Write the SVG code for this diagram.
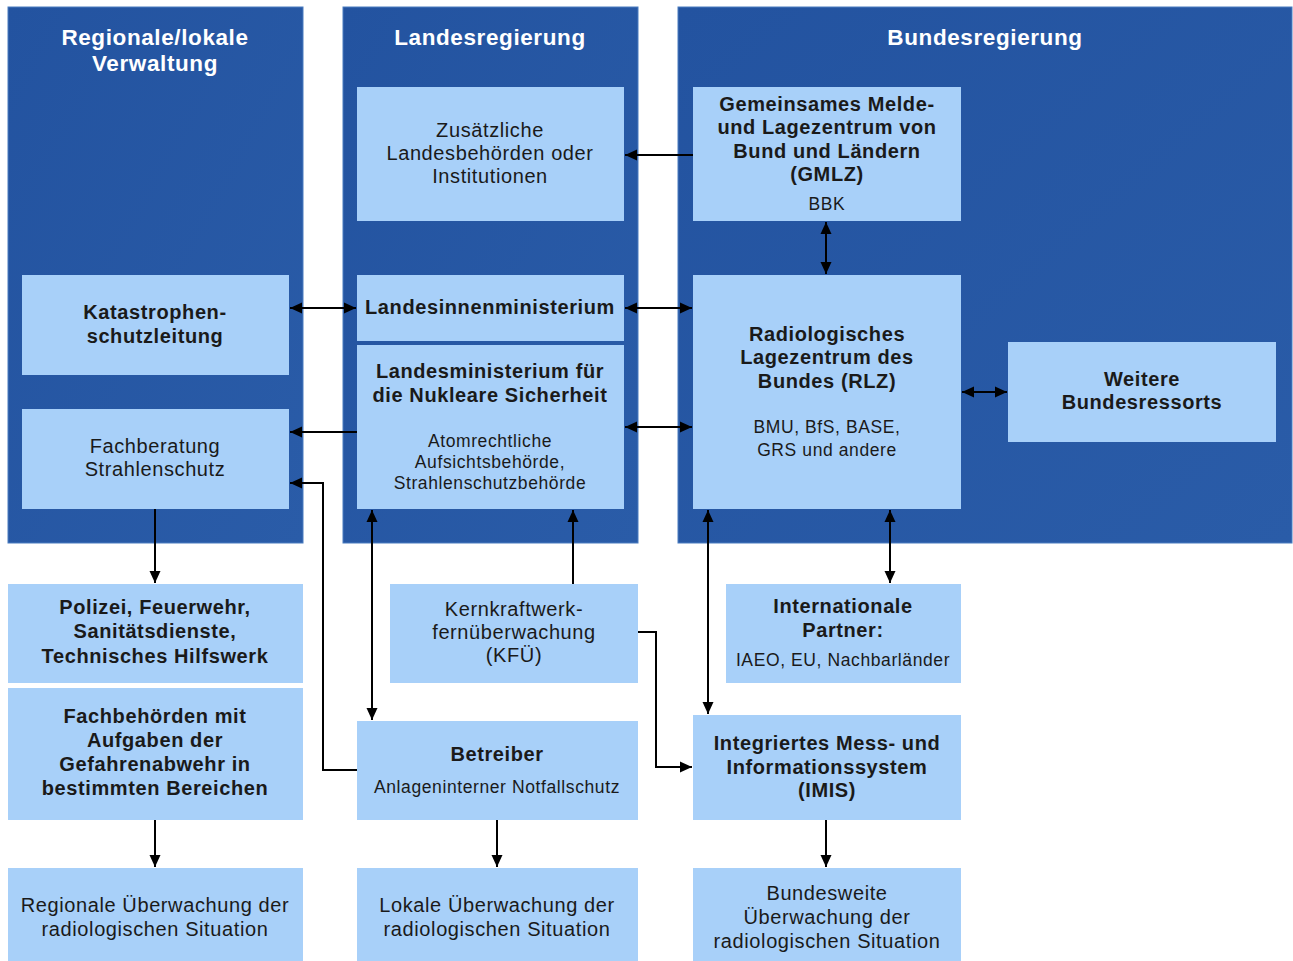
<svg xmlns="http://www.w3.org/2000/svg" width="1293" height="961" viewBox="0 0 1293 961">
<defs>
<linearGradient id="colg" x1="0" y1="0" x2="1" y2="1">
<stop offset="0" stop-color="#2353a0"/>
<stop offset="1" stop-color="#2a5ca8"/>
</linearGradient>
<marker id="ah" viewBox="0 0 12 12" refX="12" refY="6" markerWidth="12" markerHeight="12" markerUnits="userSpaceOnUse" orient="auto-start-reverse">
<path d="M0,0.5 L12,6 L0,11.5 z" fill="#000"/>
</marker>
</defs>
<style>
.col{fill:url(#colg);stroke:#4a7cc0;stroke-width:1}
.box{fill:#a8d0f9}
.hd{font-family:"Liberation Sans",Arial,sans-serif;font-weight:bold;font-size:22.5px;letter-spacing:0.6px;fill:#ffffff;text-anchor:middle}
.b{font-family:"Liberation Sans",Arial,sans-serif;font-weight:bold;font-size:20px;letter-spacing:0.6px;fill:#1a1a1a;text-anchor:middle}
.r{font-family:"Liberation Sans",Arial,sans-serif;font-size:20px;letter-spacing:0.6px;fill:#1a1a1a;text-anchor:middle}
.s{font-family:"Liberation Sans",Arial,sans-serif;font-size:17.5px;letter-spacing:0.6px;fill:#1a1a1a;text-anchor:middle}
.c{fill:none;stroke:#000;stroke-width:2}
</style>
<rect width="1293" height="961" fill="#ffffff"/>
<g id="columns">
<g id="col-regional"><rect class="col" x="8" y="7" width="295" height="536"/>
<text class="hd" x="155" y="45">Regionale/lokale</text><text class="hd" x="155" y="71">Verwaltung</text></g>
<g id="col-land"><rect class="col" x="343" y="7" width="295" height="536"/>
<text class="hd" x="490" y="45">Landesregierung</text></g>
<g id="col-bund"><rect class="col" x="678" y="7" width="614" height="536"/>
<text class="hd" x="985" y="45">Bundesregierung</text></g>
</g>
<g id="n-zusatz"><rect class="box" x="357" y="87" width="267" height="134"/>
<text class="r" x="490" y="137">Zusätzliche</text><text class="r" x="490" y="160">Landesbehörden oder</text><text class="r" x="490" y="183">Institutionen</text></g>
<g id="n-gmlz"><rect class="box" x="693" y="87" width="268" height="134"/>
<text class="b" x="827" y="111">Gemeinsames Melde-</text><text class="b" x="827" y="134">und Lagezentrum von</text><text class="b" x="827" y="158">Bund und Ländern</text><text class="b" x="827" y="181">(GMLZ)</text><text class="s" x="827" y="210">BBK</text></g>
<g id="n-kats"><rect class="box" x="22" y="275" width="267" height="100"/>
<text class="b" x="155" y="319">Katastrophen-</text><text class="b" x="155" y="343">schutzleitung</text></g>
<g id="n-innen"><rect class="box" x="357" y="275" width="267" height="66"/>
<text class="b" x="490" y="314">Landesinnenministerium</text></g>
<g id="n-nuk"><rect class="box" x="357" y="345" width="267" height="164"/>
<text class="b" x="490" y="378">Landesministerium für</text><text class="b" x="490" y="402">die Nukleare Sicherheit</text><text class="s" x="490" y="447">Atomrechtliche</text><text class="s" x="490" y="468">Aufsichtsbehörde,</text><text class="s" x="490" y="489">Strahlenschutzbehörde</text></g>
<g id="n-fach"><rect class="box" x="22" y="409" width="267" height="100"/>
<text class="r" x="155" y="453">Fachberatung</text><text class="r" x="155" y="476">Strahlenschutz</text></g>
<g id="n-rlz"><rect class="box" x="693" y="275" width="268" height="234"/>
<text class="b" x="827" y="341">Radiologisches</text><text class="b" x="827" y="364">Lagezentrum des</text><text class="b" x="827" y="388">Bundes (RLZ)</text><text class="s" x="827" y="433">BMU, BfS, BASE,</text><text class="s" x="827" y="456">GRS und andere</text></g>
<g id="n-weitere"><rect class="box" x="1008" y="342" width="268" height="100"/>
<text class="b" x="1142" y="386">Weitere</text><text class="b" x="1142" y="409">Bundesressorts</text></g>
<g id="n-polizei"><rect class="box" x="8" y="584" width="295" height="99"/>
<text class="b" x="155" y="614">Polizei, Feuerwehr,</text><text class="b" x="155" y="638">Sanitätsdienste,</text><text class="b" x="155" y="663">Technisches Hilfswerk</text></g>
<g id="n-fachbeh"><rect class="box" x="8" y="688" width="295" height="132"/>
<text class="b" x="155" y="723">Fachbehörden mit</text><text class="b" x="155" y="747">Aufgaben der</text><text class="b" x="155" y="771">Gefahrenabwehr in</text><text class="b" x="155" y="795">bestimmten Bereichen</text></g>
<g id="n-regional"><rect class="box" x="8" y="868" width="295" height="93"/>
<text class="r" x="155" y="912">Regionale Überwachung der</text><text class="r" x="155" y="936">radiologischen Situation</text></g>
<g id="n-kfue"><rect class="box" x="390" y="584" width="248" height="99"/>
<text class="r" x="514" y="616">Kernkraftwerk-</text><text class="r" x="514" y="639">fernüberwachung</text><text class="r" x="514" y="662">(KFÜ)</text></g>
<g id="n-betreiber"><rect class="box" x="357" y="721" width="281" height="99"/>
<text class="b" x="497" y="761">Betreiber</text><text class="s" x="497" y="793">Anlageninterner Notfallschutz</text></g>
<g id="n-lokal"><rect class="box" x="357" y="868" width="281" height="93"/>
<text class="r" x="497" y="912">Lokale Überwachung der</text><text class="r" x="497" y="936">radiologischen Situation</text></g>
<g id="n-intl"><rect class="box" x="726" y="584" width="235" height="99"/>
<text class="b" x="843" y="613">Internationale</text><text class="b" x="843" y="637">Partner:</text><text class="s" x="843" y="666">IAEO, EU, Nachbarländer</text></g>
<g id="n-imis"><rect class="box" x="693" y="715" width="268" height="105"/>
<text class="b" x="827" y="750">Integriertes Mess- und</text><text class="b" x="827" y="774">Informationssystem</text><text class="b" x="827" y="797">(IMIS)</text></g>
<g id="n-bundesweit"><rect class="box" x="693" y="868" width="268" height="93"/>
<text class="r" x="827" y="900">Bundesweite</text><text class="r" x="827" y="924">Überwachung der</text><text class="r" x="827" y="948">radiologischen Situation</text></g>
<g id="connectors">
<path class="c" d="M693,155 H625" marker-end="url(#ah)"/>
<path class="c" d="M826,222 V274" marker-start="url(#ah)" marker-end="url(#ah)"/>
<path class="c" d="M290,308 H356" marker-start="url(#ah)" marker-end="url(#ah)"/>
<path class="c" d="M625,308 H692" marker-start="url(#ah)" marker-end="url(#ah)"/>
<path class="c" d="M625,427 H692" marker-start="url(#ah)" marker-end="url(#ah)"/>
<path class="c" d="M357,432 H290" marker-end="url(#ah)"/>
<path class="c" d="M962,392 H1007" marker-start="url(#ah)" marker-end="url(#ah)"/>
<path class="c" d="M155,509 V583" marker-end="url(#ah)"/>
<path class="c" d="M357,770 H323 V483 H290" marker-end="url(#ah)"/>
<path class="c" d="M372,510 V720" marker-start="url(#ah)" marker-end="url(#ah)"/>
<path class="c" d="M573,584 V510" marker-end="url(#ah)"/>
<path class="c" d="M638,632 H656 V767 H692" marker-end="url(#ah)"/>
<path class="c" d="M708,510 V714" marker-start="url(#ah)" marker-end="url(#ah)"/>
<path class="c" d="M890,510 V583" marker-start="url(#ah)" marker-end="url(#ah)"/>
<path class="c" d="M155,820 V867" marker-end="url(#ah)"/>
<path class="c" d="M497,820 V867" marker-end="url(#ah)"/>
<path class="c" d="M826,820 V867" marker-end="url(#ah)"/>
</g>
</svg>
